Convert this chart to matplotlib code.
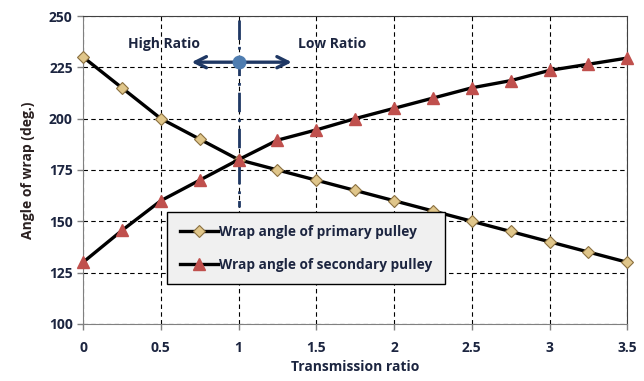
import numpy as np
import matplotlib
matplotlib.use("Agg")
from matplotlib import pyplot as plt

# data
ratio = [0, 0.25, 0.5, 0.75, 1, 1.25, 1.5, 1.75, 2, 2.25, 2.5, 2.75, 3, 3.25, 3.5]
primary = [230, 215, 200, 190, 180, 175, 170, 165, 160, 155, 150, 145, 140, 135, 130]
secondary = [130, 145.5, 160, 170, 180, 189.5, 194.5, 200, 205, 210, 215, 218.5, 223.5, 226.5, 229.5]

plt.rcParams['font.family'] = ['Open Sans', 'DejaVu Sans']
navy = "#1f3864"
txt = "#1c2540"

fig = plt.figure(figsize=(6.44, 3.81), dpi=100)
ax = fig.add_axes([0.129, 0.15, 0.845, 0.808])

ax.plot(ratio, primary, color="black", lw=2.4, marker="D", ms=6, clip_on=False,
        mfc="#e0c68a", mec="#8a7040", mew=0.8, label="Wrap angle of primary pulley", zorder=4)
ax.plot(ratio, secondary, color="black", lw=2.4, marker="^", ms=8, clip_on=False,
        mfc="#c0504d", mec="#c0504d", label="Wrap angle of secondary pulley", zorder=4)

ax.set_xlim(0, 3.5)
ax.set_ylim(100, 250)
ax.set_xticks(np.arange(0, 3.51, 0.5))
ax.set_xticklabels(["0", "0.5", "1", "1.5", "2", "2.5", "3", "3.5"])
ax.set_yticks(np.arange(100, 251, 25))
ax.grid(True, color="black", ls=(0, (4, 3)), lw=0.8)
ax.tick_params(colors="#808080", labelcolor=txt, labelsize=10, length=4, width=1)
for t in ax.get_xticklabels() + ax.get_yticklabels():
    t.set_fontweight("bold")
ax.tick_params(axis="x", pad=8)
for s in ["left", "bottom"]:
    ax.spines[s].set_color("#808080")
for s in ["top", "right"]:
    ax.spines[s].set_color("#404040")

ax.set_xlabel("Transmission ratio", fontsize=10, fontweight="bold", color=txt, labelpad=4)
ax.set_ylabel("Angle of wrap (deg.)", fontsize=10, fontweight="bold", color="#2a2020", labelpad=10)

# ratio annotation
ax.plot([1, 1], [248, 157], color=navy, lw=2, ls=(0, (7, 2.5, 1, 2.5)), zorder=3)
ax.annotate("", xy=(0.68, 227.5), xytext=(1.36, 227.5),
            arrowprops=dict(arrowstyle="<->", color=navy, lw=2.4, mutation_scale=20), zorder=5)
ax.plot([1], [227.5], marker="o", ms=9, color="#4f7db0", zorder=6)
ax.text(0.52, 236.5, "High Ratio", ha="center", va="center", fontsize=10,
        fontweight="bold", color=txt)
ax.text(1.6, 236.5, "Low Ratio", ha="center", va="center", fontsize=10,
        fontweight="bold", color=txt)

leg = ax.legend(loc="upper left", bbox_to_anchor=(0.155, 0.362), fontsize=9.8,
                fancybox=False, edgecolor="black", facecolor="#f0f0f0", framealpha=1,
                handlelength=2.8, handletextpad=0.1, labelspacing=1.4, borderpad=0.9,
                borderaxespad=0)
leg.get_frame().set_linewidth(1)
for t in leg.get_texts():
    t.set_fontweight("bold")
    t.set_color(txt)

fig.savefig("out.png", dpi=100)
